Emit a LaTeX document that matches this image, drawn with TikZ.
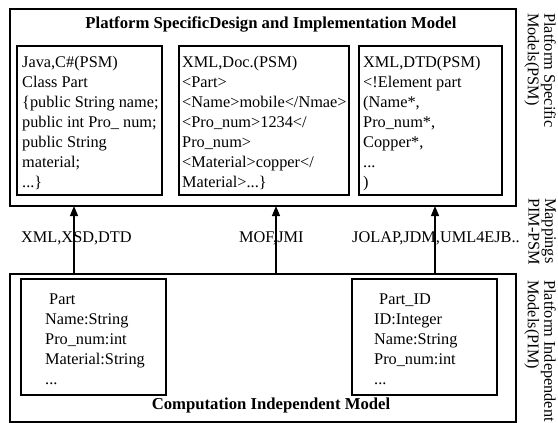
\documentclass[tikz,border=0pt]{standalone}
\usepackage{fontspec}
\setmainfont{Liberation Serif}
\usetikzlibrary{arrows.meta}
\begin{document}
\begin{tikzpicture}[x=1pt,y=-1pt,
  frame/.style={draw, line width=1.3pt, anchor=north west, inner sep=0pt, outer sep=0pt},
  txt/.style={anchor=base west, align=left, inner sep=0pt, font=\fontsize{16.3}{20}\selectfont},
  ttl/.style={anchor=base, inner sep=0pt, font=\bfseries\fontsize{16.7}{20}\selectfont},
  lbl/.style={anchor=base west, inner sep=0pt, font=\fontsize{16.3}{20}\selectfont},
  rot/.style={rotate=-90, anchor=north west, align=left, inner sep=0pt, font=\fontsize{16.3}{16.5}\selectfont},
  arr/.style={line width=1.2pt, -{Triangle[length=10pt,width=8pt]}}]
\useasboundingbox (0,0) rectangle (558,423);
% top model
\node[frame, minimum width=506pt, minimum height=197pt] (psm) at (10,9) {};
\node[ttl] (psmtitle) at (271,28) {Platform SpecificDesign and Implementation Model};
\node[frame, minimum width=145pt, minimum height=149pt] (b1) at (17,46) {};
\node[frame, minimum width=170pt, minimum height=149pt] (b2) at (179,46) {};
\node[frame, minimum width=143pt, minimum height=149pt] (b3) at (359,46) {};
% multi-line nodes: base anchor = baseline of last line
\node[txt] (t1) at (22,187) {Java,C\#(PSM)\\Class Part\\\{public String name;\\public int Pro\_ num;\\public String\\material;\\...\}};
\node[txt] (t2) at (182,187) {XML,Doc.(PSM)\\<Part>\\<Name>mobile</Nmae>\\<Pro\_num>1234</\\Pro\_num>\\<Material>copper</\\Material>...\}};
\node[txt] (t3) at (363,187) {XML,DTD(PSM)\\<!Element part\\(Name*,\\Pro\_num*,\\Copper*,\\...\\)};
% bottom model
\node[frame, minimum width=506pt, minimum height=148pt] (pim) at (10,274) {};
\node[frame, minimum width=145pt, minimum height=116pt] (c1) at (21,279) {};
\node[frame, minimum width=145pt, minimum height=116pt] (c2) at (352,279) {};
\node[txt] (u1) at (45,384) {\hspace*{4pt}Part\\Name:String\\Pro\_num:int\\Material:String\\...};
\node[txt] (u2) at (374,384) {\hspace*{5pt}Part\_ID\\ID:Integer\\Name:String\\Pro\_num:int\\...};
\node[ttl] (pimtitle) at (271,409) {Computation Independent Model};
% mappings
\coordinate (a1) at (74,0);
\coordinate (a2) at (276,0);
\coordinate (a3) at (435,0);
\draw[arr] (pim.north -| a1) -- (psm.south -| a1);
\draw[arr] (pim.north -| a2) -- (psm.south -| a2);
\draw[arr] (pim.north -| a3) -- (psm.south -| a3);
\node[lbl] (l1) at (21,242) {XML,XSD,DTD};
\node[lbl] (l2) at (239,242) {MOF,JMI};
\node[lbl] (l3) at (352,242) {JOLAP,JDM,UML4EJB..};
% side labels
\node[rot] (s1) at (556,13) {Platform Specific\\Models(PSM)};
\node[rot] (s2) at (556,198) {Mappings\\PIM-PSM};
\node[rot] (s3) at (556,280) {Platform Independent\\Models(PIM)};
\end{tikzpicture}
\end{document}
